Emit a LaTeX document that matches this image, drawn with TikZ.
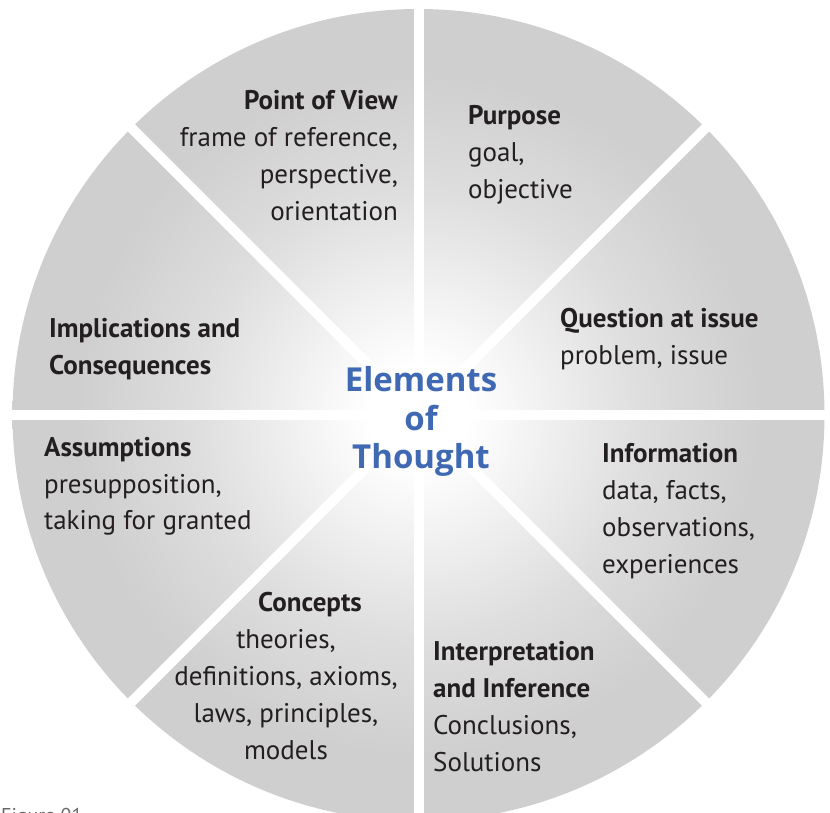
\documentclass[tikz,border=0pt]{standalone}
\usepackage{fontspec}
\usetikzlibrary{calc}
\setmainfont{PT Sans}
\newfontfamily\centerfont{Open Sans}
\definecolor{txt}{HTML}{231F20}
\definecolor{ttlblue}{HTML}{3F69B3}
\definecolor{rim}{HTML}{CFCFCF}
\definecolor{figgray}{HTML}{6A6A6A}
\pgfdeclareradialshading{wheel}{\pgfpoint{0bp}{0bp}}{%
  color(0bp)=(white); color(3bp)=(white); color(14bp)=(rim!70!white); color(21bp)=(rim); color(25bp)=(rim); color(50bp)=(rim)}
\tikzset{
  lbl/.style={inner sep=0pt, text=txt, font=\fontsize{27}{37}\selectfont},
  gapline/.style={draw=white, line width=10pt},
}
\begin{document}
\begin{tikzpicture}[x=1pt,y=1pt]
\useasboundingbox (0,0) rectangle (830,812);
% wheel
\coordinate (c) at (418.5,397);
\path[shading=wheel] (c) circle[radius=406];
\foreach \a in {0,45,90,135}{
  \draw[gapline] ($(c)+(\a:420)$) -- ($(c)+(\a+180:420)$);
}
% labels (anchored at the baseline of their last line)
\node[lbl, anchor=base east, align=right] (pov) at (398,812-221)
  {\textbf{Point of View}\\frame of reference,\\perspective,\\orientation};
\node[lbl, anchor=base west, align=left] (pur) at (468,812-199)
  {\textbf{Purpose}\\goal,\\objective};
\node[lbl, anchor=base west, align=left] (qai) at (560,812-365)
  {\textbf{Question at issue}\\problem, issue};
\node[lbl, anchor=base west, align=left] (inf) at (602,812-573)
  {\textbf{Information}\\data, facts,\\observations,\\experiences};
\node[lbl, anchor=base west, align=left] (int) at (433,812-771)
  {\textbf{Interpretation}\\\textbf{and Inference}\\Conclusions,\\Solutions};
\node[lbl, anchor=base, align=center] (con) at (286,812-759)
  {\hspace*{48pt}\textbf{Concepts}\\theories,\\definitions, axioms,\\laws, principles,\\models};
\node[lbl, anchor=base west, align=left] (ass) at (44,812-530)
  {\textbf{Assumptions}\\presupposition,\\taking for granted};
\node[lbl, anchor=base west, align=left] (imp) at (49,812-375)
  {\textbf{Implications and}\\\textbf{Consequences}};
\node[inner sep=0pt, anchor=base, align=center, text=ttlblue,
  font=\centerfont\bfseries\fontsize{33}{38.5}\selectfont] (elem) at (421,812-469)
  {Elements\\of\\Thought};
\node[inner sep=0pt, anchor=base west, text=figgray,
  font=\fontsize{20}{22}\selectfont] (fig) at (1,812-822) {Figure 01};
\end{tikzpicture}
\end{document}
